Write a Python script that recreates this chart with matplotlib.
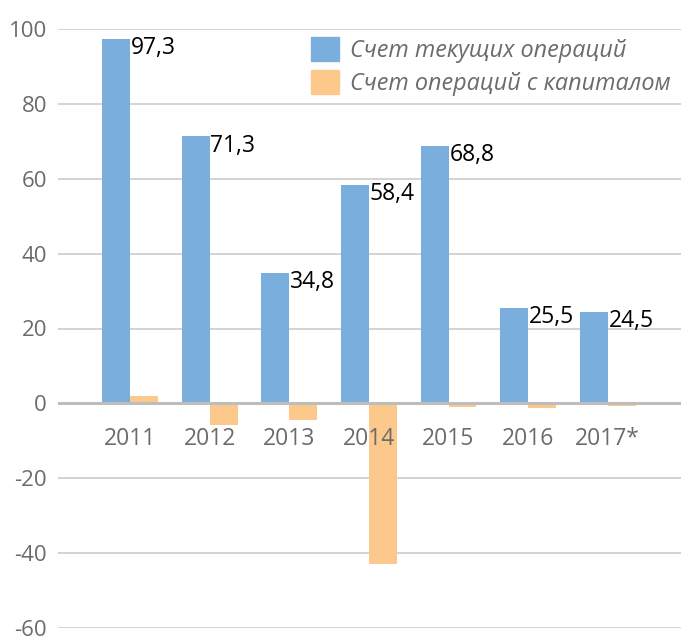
import numpy as np
import matplotlib.pyplot as plt
from matplotlib.patches import Patch

years = ['2011', '2012', '2013', '2014', '2015', '2016', '2017*']
current = [97.3, 71.3, 34.8, 58.4, 68.8, 25.5, 24.5]
capital = [1.9, -5.8, -4.4, -42.8, -1.1, -1.3, -0.7]
labels = ['97,3', '71,3', '34,8', '58,4', '68,8', '25,5', '24,5']
legend_names = ['Счет текущих операций', 'Счет операций с капиталом']

blue = '#7aaedd'
orange = '#fcc88b'
gray_text = '#6b6b6b'

plt.rcParams['font.family'] = ['Open Sans', 'DejaVu Sans']
plt.rcParams['axes.unicode_minus'] = False

fig = plt.figure(figsize=(6.81, 6.40), dpi=100)
ax = fig.add_axes([58 / 681, 12 / 640, 1 - 58 / 681, 1 - 41 / 640])

x = np.arange(len(years))
w = 0.35
ax.bar(x - w / 2, current, width=w, color=blue, zorder=3)
ax.bar(x + w / 2, capital, width=w, color=orange, zorder=3)

for xi, v, s in zip(x, current, labels):
    ax.text(xi + 0.01, v + 0.7, s, ha='left', va='top', fontsize=16.5,
            color='black', zorder=5)

for xi, yr in zip(x, years):
    ax.text(xi, -9.6, yr, ha='center', va='center', fontsize=16.5,
            color=gray_text, zorder=6)

ax.set_ylim(-60, 100)
ax.set_xlim(-0.905, 6.92)
ax.set_yticks(range(-60, 101, 20))
ax.set_xticks([])
ax.tick_params(axis='y', length=0, pad=8, labelsize=16, labelcolor=gray_text)
ax.grid(axis='y', color='#c8c8c8', linewidth=1.1, zorder=0)
ax.axhline(0, color='#bdbdbd', linewidth=2.2, zorder=4)
for sp in ax.spines.values():
    sp.set_visible(False)

handles = [Patch(color=blue), Patch(color=orange)]
leg = fig.legend(handles, legend_names, loc='upper left',
                 bbox_to_anchor=(304 / 681, 1 - 30 / 640), frameon=False,
                 handlelength=1.2, handleheight=1.2, handletextpad=0.45,
                 labelspacing=0.32, borderaxespad=0, borderpad=0.3,
                 prop={'size': 16.8, 'style': 'italic'})
for t in leg.get_texts():
    t.set_color(gray_text)

fig.savefig('out.png', dpi=100)
